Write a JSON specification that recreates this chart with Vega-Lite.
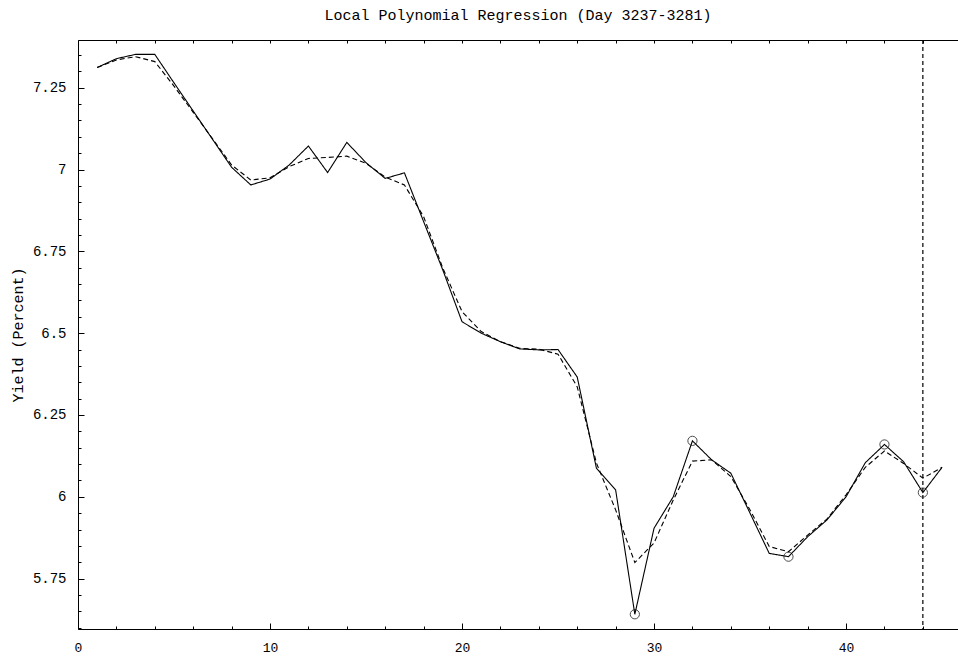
{
  "$schema": "https://vega.github.io/schema/vega-lite/v6.json",
  "width": 880,
  "height": 589,
  "autosize": {"type": "none"},
  "padding": {"left": 78, "top": 40, "right": 0, "bottom": 32},
  "background": "white",
  "title": {"text": "Local Polynomial Regression (Day 3237-3281)", "font": "Liberation Mono", "fontSize": 15, "fontWeight": "normal", "color": "black", "offset": 16, "anchor": "middle"},
  "config": {
    "view": {"stroke": null},
    "axis": {"grid": false, "domainColor": "black", "tickColor": "black", "labelColor": "black", "titleColor": "black", "labelFont": "Liberation Mono", "titleFont": "Liberation Mono", "titleFontWeight": "normal", "labelFlush": false, "labelOverlap": false, "labelBound": false, "domainWidth": 1, "tickWidth": 1}
  },
  "datasets": {
    "series": [
      {"day": 1, "value": 7.312, "series": "obs"}, {"day": 2, "value": 7.339, "series": "obs"}, {"day": 3, "value": 7.352, "series": "obs"}, {"day": 4, "value": 7.352, "series": "obs"}, {"day": 5, "value": 7.265, "series": "obs"},
      {"day": 6, "value": 7.179, "series": "obs"}, {"day": 7, "value": 7.093, "series": "obs"}, {"day": 8, "value": 7.007, "series": "obs"}, {"day": 9, "value": 6.953, "series": "obs"}, {"day": 10, "value": 6.971, "series": "obs"},
      {"day": 11, "value": 7.014, "series": "obs"}, {"day": 12, "value": 7.072, "series": "obs"}, {"day": 13, "value": 6.991, "series": "obs"}, {"day": 14, "value": 7.083, "series": "obs"}, {"day": 15, "value": 7.021, "series": "obs"},
      {"day": 16, "value": 6.973, "series": "obs"}, {"day": 17, "value": 6.990, "series": "obs"}, {"day": 18, "value": 6.841, "series": "obs"}, {"day": 19, "value": 6.693, "series": "obs"}, {"day": 20, "value": 6.535, "series": "obs"},
      {"day": 21, "value": 6.500, "series": "obs"}, {"day": 22, "value": 6.474, "series": "obs"}, {"day": 23, "value": 6.452, "series": "obs"}, {"day": 24, "value": 6.449, "series": "obs"}, {"day": 25, "value": 6.450, "series": "obs"},
      {"day": 26, "value": 6.366, "series": "obs"}, {"day": 27, "value": 6.087, "series": "obs"}, {"day": 28, "value": 6.021, "series": "obs"}, {"day": 29, "value": 5.641, "series": "obs"}, {"day": 30, "value": 5.904, "series": "obs"},
      {"day": 31, "value": 6.000, "series": "obs"}, {"day": 32, "value": 6.171, "series": "obs"}, {"day": 33, "value": 6.113, "series": "obs"}, {"day": 34, "value": 6.072, "series": "obs"}, {"day": 35, "value": 5.950, "series": "obs"},
      {"day": 36, "value": 5.827, "series": "obs"}, {"day": 37, "value": 5.817, "series": "obs"}, {"day": 38, "value": 5.878, "series": "obs"}, {"day": 39, "value": 5.929, "series": "obs"}, {"day": 40, "value": 6.000, "series": "obs"},
      {"day": 41, "value": 6.104, "series": "obs"}, {"day": 42, "value": 6.160, "series": "obs"}, {"day": 43, "value": 6.107, "series": "obs"}, {"day": 44, "value": 6.013, "series": "obs"}, {"day": 45, "value": 6.090, "series": "obs"},
      {"day": 1, "value": 7.312, "series": "fit"}, {"day": 2, "value": 7.335, "series": "fit"}, {"day": 3, "value": 7.345, "series": "fit"}, {"day": 4, "value": 7.330, "series": "fit"}, {"day": 5, "value": 7.255, "series": "fit"},
      {"day": 6, "value": 7.175, "series": "fit"}, {"day": 7, "value": 7.095, "series": "fit"}, {"day": 8, "value": 7.014, "series": "fit"}, {"day": 9, "value": 6.968, "series": "fit"}, {"day": 10, "value": 6.975, "series": "fit"},
      {"day": 11, "value": 7.009, "series": "fit"}, {"day": 12, "value": 7.034, "series": "fit"}, {"day": 13, "value": 7.037, "series": "fit"}, {"day": 14, "value": 7.041, "series": "fit"}, {"day": 15, "value": 7.019, "series": "fit"},
      {"day": 16, "value": 6.977, "series": "fit"}, {"day": 17, "value": 6.953, "series": "fit"}, {"day": 18, "value": 6.856, "series": "fit"}, {"day": 19, "value": 6.699, "series": "fit"}, {"day": 20, "value": 6.566, "series": "fit"},
      {"day": 21, "value": 6.505, "series": "fit"}, {"day": 22, "value": 6.474, "series": "fit"}, {"day": 23, "value": 6.454, "series": "fit"}, {"day": 24, "value": 6.451, "series": "fit"}, {"day": 25, "value": 6.436, "series": "fit"},
      {"day": 26, "value": 6.336, "series": "fit"}, {"day": 27, "value": 6.103, "series": "fit"}, {"day": 28, "value": 5.960, "series": "fit"}, {"day": 29, "value": 5.799, "series": "fit"}, {"day": 30, "value": 5.859, "series": "fit"},
      {"day": 31, "value": 5.990, "series": "fit"}, {"day": 32, "value": 6.109, "series": "fit"}, {"day": 33, "value": 6.113, "series": "fit"}, {"day": 34, "value": 6.062, "series": "fit"}, {"day": 35, "value": 5.960, "series": "fit"},
      {"day": 36, "value": 5.848, "series": "fit"}, {"day": 37, "value": 5.832, "series": "fit"}, {"day": 38, "value": 5.883, "series": "fit"}, {"day": 39, "value": 5.932, "series": "fit"}, {"day": 40, "value": 6.006, "series": "fit"},
      {"day": 41, "value": 6.090, "series": "fit"}, {"day": 42, "value": 6.140, "series": "fit"}, {"day": 43, "value": 6.102, "series": "fit"}, {"day": 44, "value": 6.057, "series": "fit"}, {"day": 45, "value": 6.090, "series": "fit"}
    ],
    "marked": [
      {"day": 29, "value": 5.641}, {"day": 32, "value": 6.171}, {"day": 37, "value": 5.817}, {"day": 42, "value": 6.160}, {"day": 44, "value": 6.013}
    ],
    "cursor": [{"day": 44}]
  },
  "layer": [
    {
      "layer": [
        {
          "data": {"name": "series"},
          "mark": {"type": "line", "color": "black", "strokeWidth": 1.1},
          "encoding": {
            "strokeDash": {"field": "series", "type": "nominal", "scale": {"domain": ["obs", "fit"], "range": [[1, 0], [5, 3]]}, "legend": null}
          }
        },
        {
          "data": {"name": "marked"},
          "mark": {"type": "point", "shape": "circle", "filled": false, "color": "black", "size": 85, "strokeWidth": 1}
        }
      ],
      "encoding": {
        "x": {"field": "day", "type": "quantitative", "scale": {"domain": [0, 45.83], "nice": false, "zero": false},
          "axis": {"orient": "bottom", "title": null, "values": [0,2,4,6,8,10,12,14,16,18,20,22,24,26,28,30,32,34,36,38,40,42,44],
            "labelExpr": "datum.value % 10 === 0 ? toString(datum.value) : ''",
            "labelFontSize": 13, "labelPadding": 18,
            "tickSize": {"condition": {"test": "datum.value % 10 === 0", "value": -6}, "value": -3}}},
        "y": {"field": "value", "type": "quantitative", "scale": {"domain": [5.596, 7.396], "nice": false, "zero": false},
          "axis": {"title": "Yield (Percent)", "titleFontSize": 15, "titleX": -61, "titleY": 294.5, "titleAngle": -90, "titleAlign": "center", "titleBaseline": "middle",
            "values": [5.6,5.65,5.7,5.75,5.8,5.85,5.9,5.95,6,6.05,6.1,6.15,6.2,6.25,6.3,6.35,6.4,6.45,6.5,6.55,6.6,6.65,6.7,6.75,6.8,6.85,6.9,6.95,7,7.05,7.1,7.15,7.2,7.25,7.3,7.35],
            "labelExpr": "abs(datum.value*4 - round(datum.value*4)) < 0.001 ? format(datum.value, '~g') : ''",
            "labelFontSize": 14, "labelPadding": 18,
            "tickSize": {"condition": {"test": "abs(datum.value*4 - round(datum.value*4)) < 0.001", "value": -6}, "value": -3}}}
      }
    },
    {
      "data": {"name": "cursor"},
      "mark": {"type": "rule", "color": "black", "strokeWidth": 1.2, "strokeDash": [4, 3]},
      "encoding": {
        "x": {"field": "day", "type": "quantitative",
          "axis": {"orient": "top", "title": null, "labels": false, "values": [0,2,4,6,8,10,12,14,16,18,20,22,24,26,28,30,32,34,36,38,40,42,44],
            "tickSize": -3}}
      }
    }
  ],
  "resolve": {"axis": {"x": "independent"}}
}
